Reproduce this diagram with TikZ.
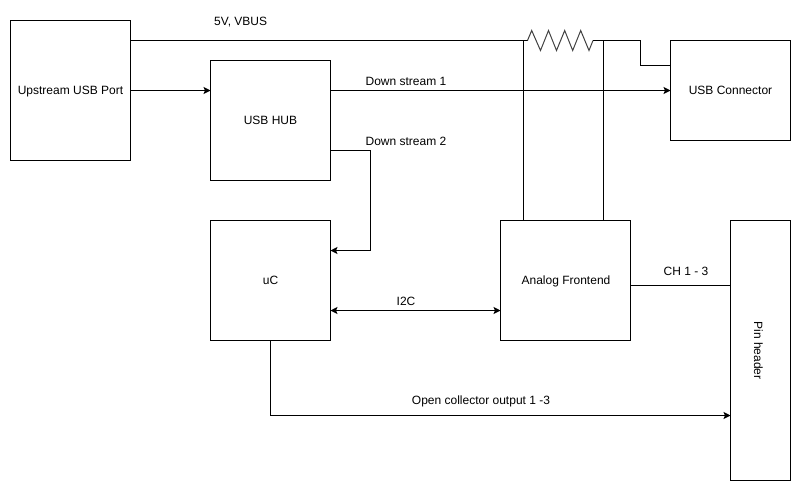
\documentclass[tikz,border=0pt]{standalone}
\usepackage{fontspec}
\setmainfont{Liberation Sans}
\usetikzlibrary{arrows.meta}
\tikzset{
  blk/.style={draw=black,line width=1pt,fill=white,anchor=north west,inner sep=0pt,outer sep=0pt,font=\fontsize{12}{14}\selectfont},
  blktext/.style={blk,text height=11pt,text depth=3pt},
  wire/.style={draw=black,line width=1pt,line join=miter},
  arr/.style={wire,-{Stealth[length=7pt,width=7pt,inset=1.5pt]}},
  arrb/.style={wire,{Stealth[length=7pt,width=7pt,inset=1.5pt]}-{Stealth[length=7pt,width=7pt,inset=1.5pt]}},
  lbl/.style={inner sep=0pt,font=\fontsize{12}{14}\selectfont}
}
\begin{document}
\begin{tikzpicture}[x=1pt,y=-1pt]
\useasboundingbox (0,0) rectangle (801,491);
\fill[white] (0,0) rectangle (801,491);
\node[blktext,minimum width=120pt,minimum height=140pt] (up) at (10.5,20.5) {Upstream USB Port};
\node[blktext,minimum width=120pt,minimum height=120pt] (hub) at (210.5,60.5) {USB HUB};
\node[blktext,minimum width=120pt,minimum height=120pt] (uc) at (210.5,220.5) {uC};
\node[blktext,minimum width=130pt,minimum height=120pt] (afe) at (500.5,220.5) {\hspace{1pt}Analog Frontend};
\node[blktext,minimum width=120pt,minimum height=100pt] (usb) at (670.5,40.5) {USB Connector};
\node[blk,minimum width=60pt,minimum height=260pt] (pin) at (730.5,220.5) {\hspace{-4pt}\rotatebox{-90}{Pin header}};
% resistor
\coordinate (ra) at (523.5,40.5);
\coordinate (rb) at (603.5,40.5);
\draw[wire] (up.east |- ra) -- (ra) -- (527.5,40.5);
\draw[draw=black!75,line width=1pt] (527.5,40.5) -- (531.7,30.5) -- (540.5,50.5) -- (548.5,30.5) -- (556.5,50.5) -- (564.7,30.5) -- (572.7,50.5) -- (580.7,30.5) -- (589,50.5) -- (593,40.5);
\draw[wire] (593,40.5) -- (rb) -- (640.5,40.5) -- (640.5,65.5) -- (usb.west |- 0,65.5);
\draw[wire] (ra) -- (afe.north west -| ra);
\draw[wire] (rb) -- (afe.north west -| rb);
\draw[arr] (up.east |- 0,90.5) -- (hub.west |- 0,90.5);
\draw[arr] (hub.east |- 0,90.5) -- (usb.west |- 0,90.5);
\draw[arr] (hub.east |- 0,150.5) -- (370.5,150.5) -- (370.5,250.5) -- (uc.east |- 0,250.5);
\draw[arrb] (uc.east |- 0,310.5) -- (afe.west |- 0,310.5);
\draw[wire] (afe.east |- 0,285.5) -- (pin.west |- 0,285.5);
\draw[arr] (uc.south) -- (270.5,415.5) -- (pin.west |- 0,415.5);
\node[lbl,anchor=west] (t1) at (214,22) {5V, VBUS};
\node[lbl] (t2) at (406,81) {Down stream 1};
\node[lbl] (t3) at (406,141.5) {Down stream 2};
\node[lbl] (t4) at (406,301) {I2C};
\node[lbl] (t5) at (686,271) {CH 1 - 3};
\node[lbl] (t6) at (481,401.5) {Open collector output 1 -3};
\end{tikzpicture}
\end{document}
